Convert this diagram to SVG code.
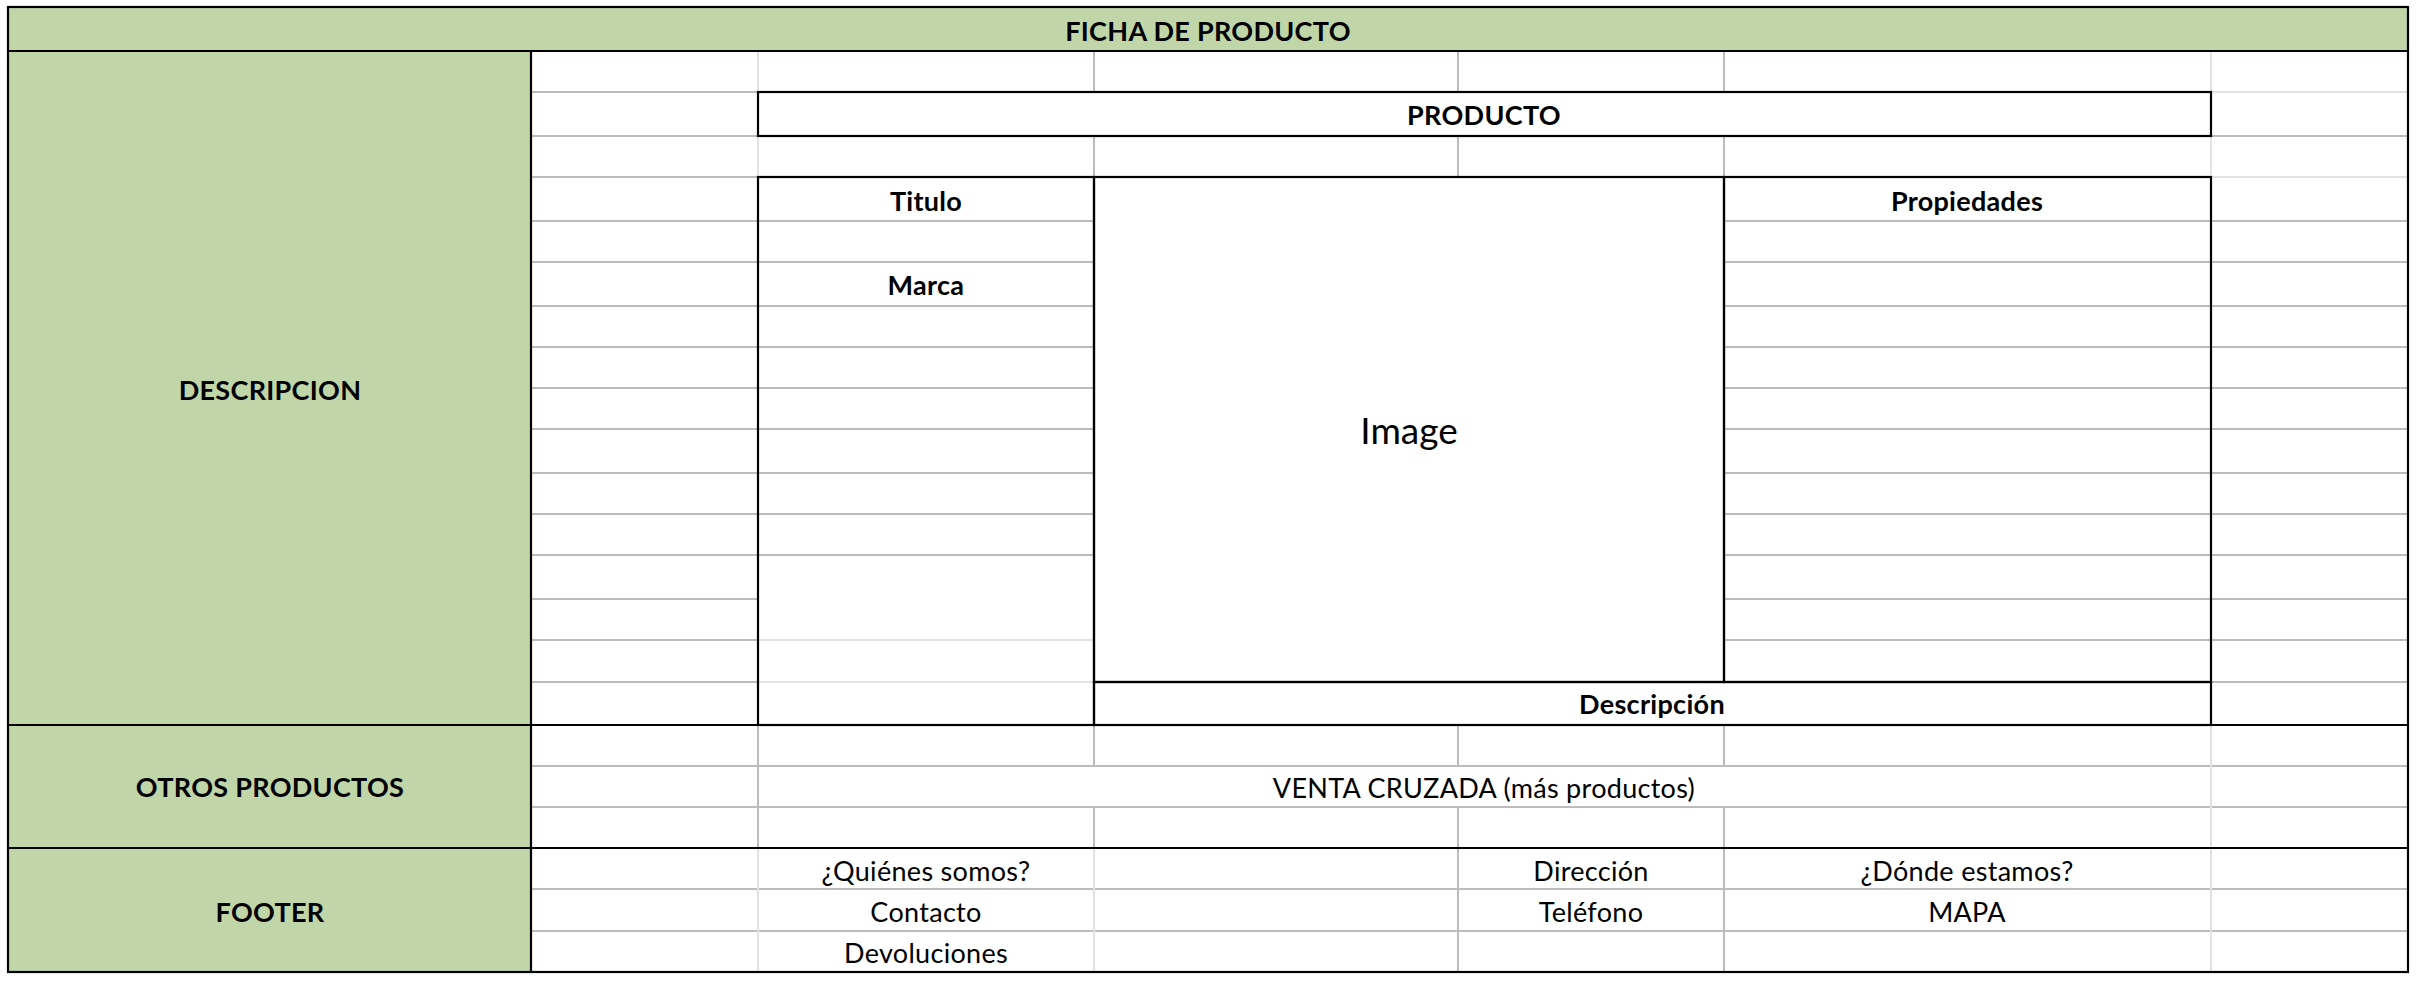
<svg xmlns="http://www.w3.org/2000/svg" width="2416" height="986" viewBox="0 0 2416 986">
<style>
.g{stroke:#bcbcbc;stroke-width:2;fill:none}
.l{stroke:#e2e2e2;stroke-width:2;fill:none}
.k{stroke:#000;stroke-width:2.2;fill:none}
.fill{fill:#c0d6a9}
.b{font-family:Lato,"Liberation Sans",sans-serif;font-weight:bold;font-size:27px;letter-spacing:0.3px;fill:#000;text-anchor:middle}
.r{font-family:Lato,"Liberation Sans",sans-serif;font-size:27px;letter-spacing:0.3px;fill:#000;text-anchor:middle}
</style>
<rect width="2416" height="986" fill="#fff"/>
<g id="fills">
<rect class="fill" x="8" y="7" width="2400" height="44"/>
<rect class="fill" x="8" y="51" width="523" height="921"/>
</g>
<g id="gridlines">
<path class="g" d="M531 92H758 M531 136H758 M2211 136H2408 M531 177H758
M531 221H1094 M1724 221H2408
M531 262H1094 M1724 262H2408
M531 306H1094 M1724 306H2408
M531 347H1094 M1724 347H2408
M531 388H1094 M1724 388H2408
M531 429H1094 M1724 429H2408
M531 473H1094 M1724 473H2408
M531 514H1094 M1724 514H2408
M531 555H1094 M1724 555H2408
M531 599H758 M1724 599H2408
M531 640H758 M1724 640H2408
M531 682H758 M2211 682H2408
M531 766H2408 M531 807H2408 M531 889H2408 M531 931H2408"/>
<path class="g" d="M1094 51V92 M1458 51V92 M1724 51V92
M1094 136V177 M1458 136V177 M1724 136V177
M758 725V848 M1094 725V766 M1458 725V766 M1724 725V766
M1094 807V848 M1458 807V848 M1724 807V848
M1458 848V972 M1724 848V972"/>
<path class="l" d="M2211 92H2408 M2211 177H2408 M758 640H1094 M758 682H1094
M758 51V92 M2211 51V92 M758 136V177 M2211 136V177
M2211 725V972 M758 848V972 M1094 848V972"/>
</g>
<g id="borders">
<rect class="k" x="8" y="7" width="2400" height="965"/>
<path class="k" d="M8 51H2408 M531 51V972 M8 725H2408 M8 848H2408"/>
</g>
<g id="header"><text class="b" x="1208" y="41">FICHA DE PRODUCTO</text></g>
<g id="descripcion-label"><text class="b" x="270" y="400">DESCRIPCION</text></g>
<g id="otros-label"><text class="b" x="270" y="797">OTROS PRODUCTOS</text></g>
<g id="footer-label"><text class="b" x="270" y="922">FOOTER</text></g>
<g id="producto">
<rect class="k" x="758" y="92" width="1453" height="44"/>
<text class="b" x="1484" y="125">PRODUCTO</text>
</g>
<g id="titulo">
<rect class="k" x="758" y="177" width="336" height="548"/>
<text class="b" x="926" y="211">Titulo</text>
<text class="b" x="926" y="295">Marca</text>
</g>
<g id="image">
<rect class="k" x="1094" y="177" width="630" height="505"/>
<text class="r" x="1409" y="444" style="font-size:37px;letter-spacing:0">Image</text>
</g>
<g id="propiedades">
<rect class="k" x="1724" y="177" width="487" height="505"/>
<text class="b" x="1967" y="211">Propiedades</text>
</g>
<g id="descripcion">
<rect class="k" x="1094" y="682" width="1117" height="43"/>
<text class="b" x="1652" y="714">Descripción</text>
</g>
<g id="venta-cruzada"><text class="r" x="1484" y="798">VENTA CRUZADA (más productos)</text></g>
<g id="footer">
<text class="r" x="926" y="881">¿Quiénes somos?</text>
<text class="r" x="926" y="922">Contacto</text>
<text class="r" x="926" y="963">Devoluciones</text>
<text class="r" x="1591" y="881">Dirección</text>
<text class="r" x="1591" y="922">Teléfono</text>
<text class="r" x="1967" y="881">¿Dónde estamos?</text>
<text class="r" x="1967" y="922">MAPA</text>
</g>
</svg>
